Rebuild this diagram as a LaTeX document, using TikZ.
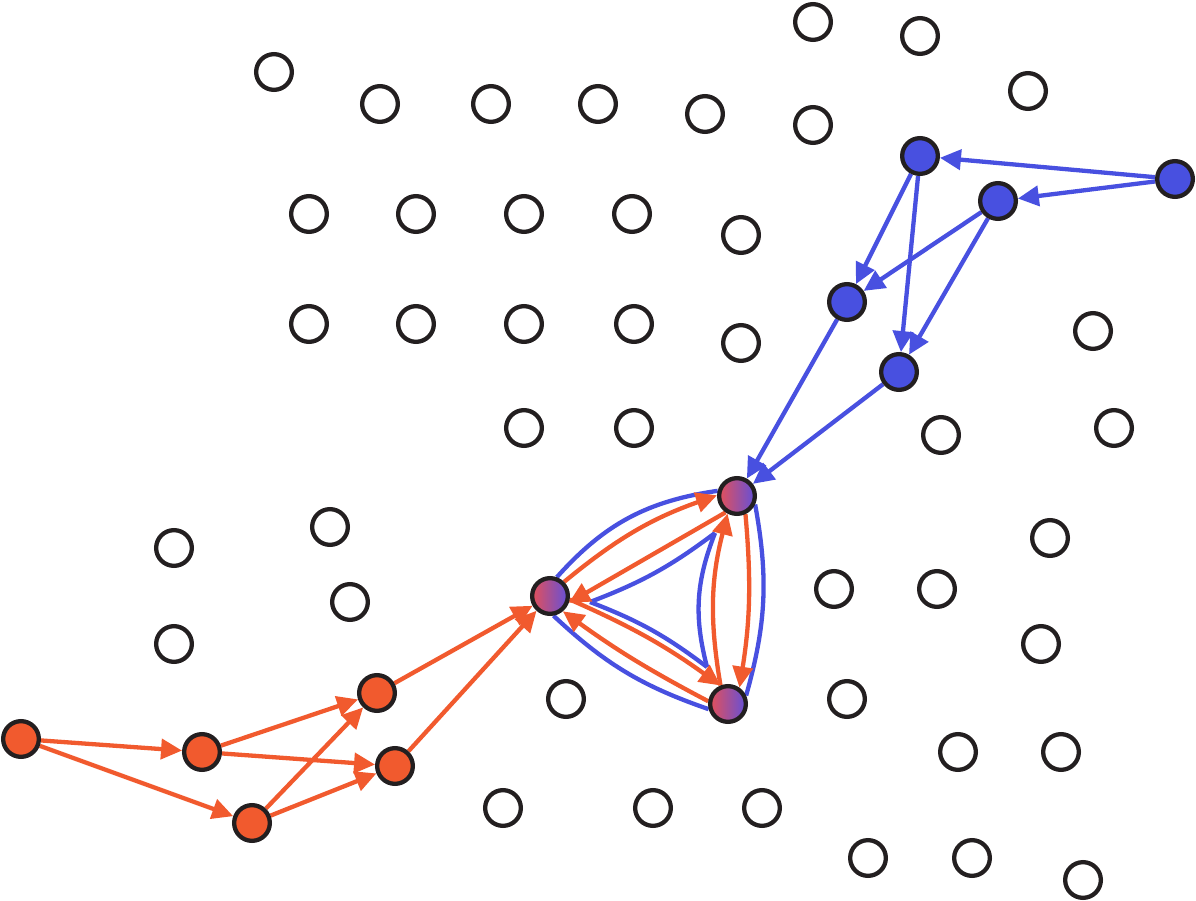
\documentclass[tikz,border=0pt]{standalone}
\usetikzlibrary{arrows.meta,backgrounds}
\definecolor{bluec}{HTML}{4850E0}
\definecolor{orangec}{HTML}{F15A2E}
\definecolor{outl}{HTML}{231F20}
\definecolor{gl}{HTML}{E3505A}
\definecolor{gr}{HTML}{6450D8}
\tikzset{
  vtx/.style={circle, draw=outl, line width=4.3pt, minimum size=35.7pt, inner sep=0pt},
  emptyv/.style={vtx, fill=white},
  bluev/.style={vtx, fill=bluec},
  orangev/.style={vtx, fill=orangec},
  gradv/.style={vtx, left color=gl, right color=gr},
  tip/.style={-{Triangle[length=21pt,width=20pt]}},
  barr/.style={draw=bluec, line width=4.3pt, tip},
  oarr/.style={draw=orangec, line width=4.3pt, tip},
  bline/.style={draw=bluec, line width=4.3pt},
}
\begin{document}
\begin{tikzpicture}[x=1pt,y=-1pt]
\useasboundingbox (0,0) rectangle (1196,901);
% empty circles
\foreach \i/\p in {1/{813,22},2/{920,36},3/{274,72},4/{380,104},5/{491,104},6/{598,104},7/{705,114},8/{813,125},9/{1028,91},
  10/{309,214},11/{416,214},12/{524,214},13/{632,214},14/{741,235},
  15/{309,324},16/{416,324},17/{524,324},18/{634,324},19/{741,343},20/{1093,331},
  21/{524,428},22/{634,428},23/{941,435},24/{1114,428},
  25/{330,527},26/{174,548},27/{1050,538},28/{350,602},29/{834,589},30/{937,589},
  31/{174,644},32/{1041,644},33/{566,699},34/{847,699},35/{958,752},36/{1061,752},
  37/{503,808},38/{653,808},39/{762,808},40/{868,858},41/{972,858},42/{1083,880}}
  \node[emptyv] (e\i) at (\p) {};
% blue nodes
\node[bluev] (B1) at (920,156) {};
\node[bluev] (B2) at (998,201) {};
\node[bluev] (B3) at (1175,179) {};
\node[bluev] (B4) at (847,302) {};
\node[bluev] (B5) at (899,372) {};
% mixed nodes
\node[gradv] (G1) at (737,496) {};
\node[gradv] (G2) at (550,596) {};
\node[gradv] (G3) at (728,704) {};
% orange nodes
\node[orangev] (O1) at (21,739) {};
\node[orangev] (O2) at (202,752) {};
\node[orangev] (O3) at (252,823) {};
\node[orangev] (O4) at (377,693) {};
\node[orangev] (O5) at (395,766) {};
% inner vertices of the blue concave triangle
\coordinate (iv2) at (590,602);
\coordinate (iv1) at (715,533);
\coordinate (iv3) at (707,667);
\begin{pgfonlayer}{background}
% blue graph
\draw[barr] (B3) -- (B1);
\draw[barr] (B3) -- (B2);
\draw[barr] (B1) -- (B4);
\draw[barr] (B1) -- (B5);
\draw[barr] (B2) -- (B4);
\draw[barr] (B2) -- (B5);
\draw[barr] (B4) -- (G1);
\draw[barr] (B5) -- (G1);
% orange graph
\draw[oarr] (O1) -- (O2);
\draw[oarr] (O1) -- (O3);
\draw[oarr] (O2) -- (O4);
\draw[oarr] (O2) -- (O5);
\draw[oarr] (O3) -- (O4);
\draw[oarr] (O3) -- (O5);
\draw[oarr] (O4) -- (G2);
\draw[oarr] (O5) -- (G2);
% blue curves of the triangle
\draw[bline] (G2.70) to[bend left=20] (G1.165);
\draw[bline] (G1.-25) to[bend left=13] (G3.25);
\draw[bline] (G2.-80) to[bend right=12] (G3.195);
\draw[bline] (iv2) to[bend right=8] (iv1);
\draw[bline] (iv1) to[bend right=18] (iv3);
\draw[bline] (iv2) to[bend left=8] (iv3);
% orange arrows of the triangle
\draw[oarr] (G2.45) to[bend left=10] (G1.178);
\draw[oarr] (G1.235) -- (G2.-20);
\draw[oarr] (G2.-10) to[bend left=6] (G3.112);
\draw[oarr] (G3.172) to[bend left=4] (G2.-50);
\draw[oarr] (G1.-65) to[bend left=7] (G3.55);
\draw[oarr] (G3.112) to[bend left=12] (G1.242);
\end{pgfonlayer}
\end{tikzpicture}
\end{document}
